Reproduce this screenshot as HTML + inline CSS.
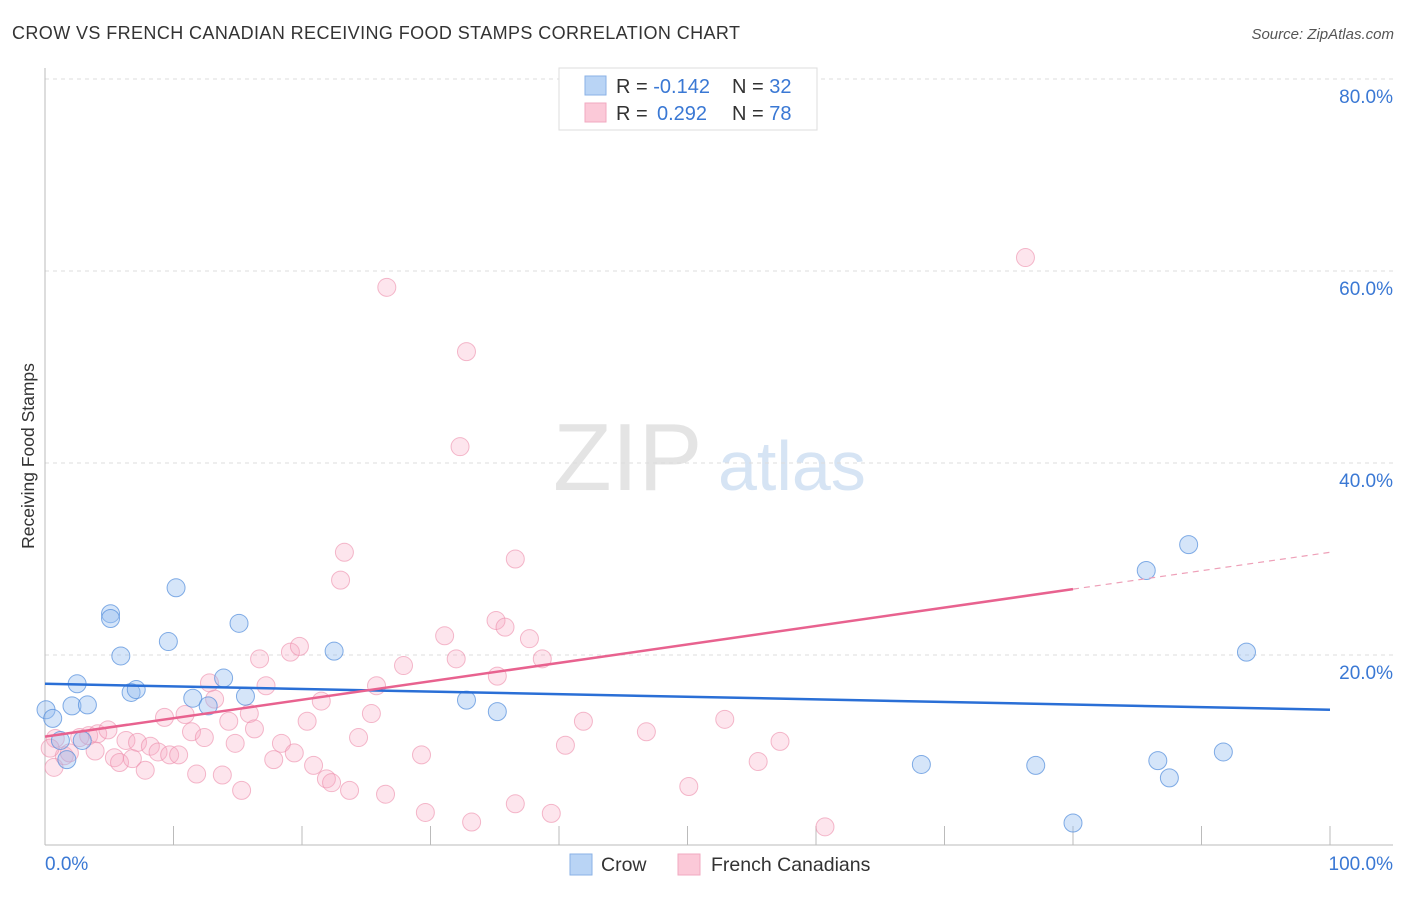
<!DOCTYPE html>
<html><head><meta charset="utf-8"><style>
body{margin:0;background:#fff;font-family:"Liberation Sans",sans-serif;}
svg text{font-family:"Liberation Sans",sans-serif;}
</style></head><body>
<svg id="c" width="1406" height="892" xmlns="http://www.w3.org/2000/svg">
<text x="12" y="39" font-size="18" fill="#333" textLength="728">CROW VS FRENCH CANADIAN RECEIVING FOOD STAMPS CORRELATION CHART</text>
<text x="1394" y="39" font-size="15" fill="#555" font-style="italic" text-anchor="end">Source: ZipAtlas.com</text>
<text transform="translate(34,456) rotate(-90)" font-size="17.5" fill="#333" text-anchor="middle">Receiving Food Stamps</text>
<g>
<text x="553" y="490" font-size="96" font-family="Liberation Serif" fill="#e4e4e4">ZIP</text>
<text x="718" y="490" font-size="70" fill="#d6e4f4">atlas</text>
</g>
<g id="grid"></g><g id="axes"></g><g id="pts"></g><g id="trend"></g>
<g>
<rect x="559" y="68" width="258" height="62" fill="#fff" stroke="#ddd"/>
<rect x="585" y="76" width="21" height="19" fill="#b9d4f5" stroke="#8ab2e6"/>
<rect x="585" y="103" width="21" height="19" fill="#fbc9d8" stroke="#f1a9c0"/>
<text x="616" y="93" font-size="20" fill="#333">R = <tspan fill="#3a78d4">-0.142</tspan><tspan x="732">N = </tspan><tspan fill="#3a78d4">32</tspan></text>
<text x="616" y="120" font-size="20" fill="#333">R = <tspan x="657" fill="#3a78d4">0.292</tspan><tspan x="732">N = </tspan><tspan fill="#3a78d4">78</tspan></text>
</g>
<g>
<rect x="570" y="854" width="22" height="21" fill="#b9d4f5" stroke="#8ab2e6"/>
<text x="601" y="871" font-size="19.5" fill="#333">Crow</text>
<rect x="678" y="854" width="22" height="21" fill="#fbc9d8" stroke="#f1a9c0"/>
<text x="711" y="871" font-size="19.5" fill="#333">French Canadians</text>
</g>
</svg>
<script>
const yTicks=[20,40,60,80];
const yTickLabels=["20.0%","40.0%","60.0%","80.0%"];
const xTicks=[0,10,20,30,40,50,60,70,80,90,100];
const xTickLabels=["0.0%","100.0%"];
const crowX=[0.08,0.6,1.7,2.1,2.5,2.9,3.3,5.1,5.1,5.9,6.7,7.1,9.6,10.2,11.5,12.7,13.9,15.1,15.6,22.5,32.8,35.2,68.2,77.1,80.0,85.7,86.6,87.5,89.0,91.7,93.5,1.2];
const crowY=[14.3,13.4,9.1,14.7,17.0,11.1,14.8,24.3,23.8,19.9,16.1,16.4,21.4,27.0,15.5,14.7,17.6,23.3,15.7,20.4,15.3,14.1,8.6,8.5,2.5,28.8,9.0,7.2,31.5,9.9,20.3,11.1];
const frX=[26.6,32.8,32.3,23.3,23.0,36.6,76.3,46.8,50.1,52.9,55.5,57.2,60.7,16.7,19.1,19.8,17.2,12.8,13.2,9.3,10.9,11.4,12.4,14.3,15.9,16.3,14.8,18.4,19.4,17.8,20.4,21.5,20.9,21.9,22.3,23.7,24.4,25.4,25.8,27.9,26.5,29.3,29.6,31.1,32.0,33.2,35.1,35.8,35.2,36.6,37.7,38.7,39.4,40.5,41.9,2.7,3.4,4.1,4.9,6.3,7.2,8.2,8.8,9.7,10.4,5.4,5.8,6.8,7.8,3.9,11.8,13.8,15.3,0.7,1.5,1.9,0.8,0.4];
const frY=[58.3,51.6,41.7,30.7,27.8,30.0,61.4,12.0,6.3,13.3,8.9,11.0,2.1,19.6,20.3,20.9,16.8,17.1,15.4,13.5,13.8,12.0,11.4,13.1,13.9,12.3,10.8,10.8,9.8,9.1,13.1,15.2,8.5,7.1,6.7,5.9,11.4,13.9,16.8,18.9,5.5,9.6,3.6,22.0,19.6,2.6,23.6,22.9,17.8,4.5,21.7,19.6,3.5,10.6,13.1,11.4,11.6,11.8,12.2,11.1,10.9,10.5,9.9,9.6,9.6,9.3,8.8,9.2,8.0,10.0,7.6,7.5,5.9,8.3,9.5,9.8,11.3,10.3];
const crowTrend=[17.0,14.3];
const frTrend=[11.5,30.7];
const frSolidEnd=80;
const NS="http://www.w3.org/2000/svg";
const X=v=>45+v*12.85, Y=v=>847-v*9.6;
function mk(t,a,p){const e=document.createElementNS(NS,t);for(const k in a)e.setAttribute(k,a[k]);p.appendChild(e);return e;}
const grid=document.getElementById('grid'),axes=document.getElementById('axes'),pts=document.getElementById('pts'),tr=document.getElementById('trend');
yTicks.forEach((v,i)=>{
 const l=mk('line',{x1:45,x2:1393,y1:Y(v),y2:Y(v),stroke:'#ddd','stroke-dasharray':'4,4'},grid);
 
 
 const t=mk('text',{x:1393,y:Y(v)+24,'font-size':19,fill:'#3a78d4','text-anchor':'end'},axes);
 t.textContent=yTickLabels[i];
 
 
});
const ya=mk('line',{x1:45,x2:45,y1:68,y2:845,stroke:'#bbb'},axes);


const xa=mk('line',{x1:45,x2:1393,y1:845,y2:845,stroke:'#bbb'},axes);


xTicks.forEach(v=>{
 const l=mk('line',{x1:X(v),x2:X(v),y1:826,y2:845,stroke:'#bbb'},axes);
 
 
});
const t0=mk('text',{x:45,y:870,'font-size':19,fill:'#3a78d4'},axes);t0.textContent=xTickLabels[0];


const t1=mk('text',{x:1393,y:870,'font-size':19,fill:'#3a78d4','text-anchor':'end'},axes);t1.textContent=xTickLabels[1];


frX.forEach((x,i)=>{
 const c=mk('circle',{cx:X(x),cy:Y(frY[i]),r:9,fill:'rgba(247,170,195,0.3)',stroke:'rgba(236,140,170,0.6)','stroke-width':1},pts);
 
 
});
crowX.forEach((x,i)=>{
 const c=mk('circle',{cx:X(x),cy:Y(crowY[i]),r:9,fill:'rgba(150,190,240,0.4)',stroke:'rgba(80,140,220,0.7)','stroke-width':1},pts);
 
 
});
const bl=mk('line',{x1:X(0),y1:Y(crowTrend[0]),x2:X(100),y2:Y(crowTrend[1]),stroke:'#2a6fd6','stroke-width':2.5},tr);


const fy=x=>frTrend[0]+(frTrend[1]-frTrend[0])*x/100;
const pl=mk('line',{x1:X(0),y1:Y(fy(0)),x2:X(frSolidEnd),y2:Y(fy(frSolidEnd)),stroke:'#e8628f','stroke-width':2.5},tr);


const pd=mk('line',{x1:X(frSolidEnd),y1:Y(fy(frSolidEnd)),x2:X(100),y2:Y(fy(100)),stroke:'#eea0b8','stroke-width':1.2,'stroke-dasharray':'6,5'},tr);


</script>
</body></html>
